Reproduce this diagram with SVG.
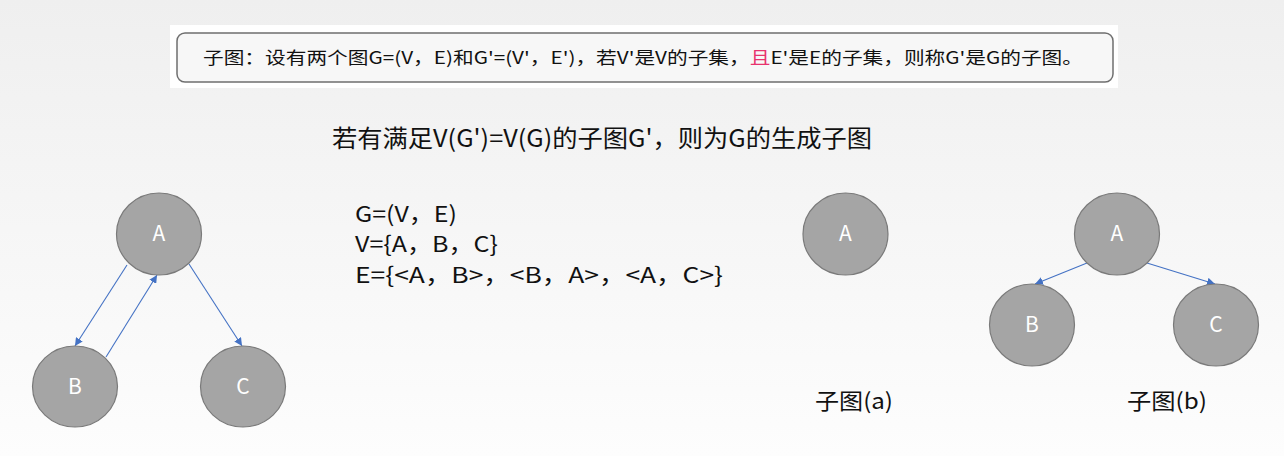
<svg xmlns="http://www.w3.org/2000/svg" width="1284" height="456" viewBox="0 0 1284 456">
<defs>
<linearGradient id="bg" x1="0" y1="0" x2="0" y2="1">
<stop offset="0" stop-color="#efefef"/>
<stop offset="1" stop-color="#fdfdfd"/>
</linearGradient>
<marker id="arr" viewBox="0 0 10 10" refX="10" refY="5" markerWidth="8" markerHeight="8" markerUnits="userSpaceOnUse" orient="auto">
<path d="M0,0 L10,5 L0,10 z" fill="#4472c4"/>
</marker>
<style>
.t{font-family:"Microsoft YaHei","Noto Sans CJK SC",sans-serif;fill:#111}
.n ellipse{fill:#a5a5a5;stroke:#7a7a7a;stroke-width:1.2}
.n text{font-family:"Microsoft YaHei","Noto Sans CJK SC",sans-serif;font-size:21px;fill:#fff;text-anchor:middle}
.e line{stroke:#4472c4;stroke-width:1.1;marker-end:url(#arr)}
</style>
</defs>
<rect width="1284" height="456" fill="url(#bg)"/>
<g id="definition">
<rect x="170" y="25" width="948" height="63" fill="#ffffff"/>
<rect x="177" y="33" width="936" height="49" rx="8" fill="#f7f7f7" stroke="#6f6f6f" stroke-width="1.5"/>
<text class="t" x="203" y="64" font-size="17" textLength="880" lengthAdjust="spacingAndGlyphs">子图：设有两个图G=(V，E)和G'=(V'，E')，若V'是V的子集，<tspan fill="#e8336e">且</tspan>E'是E的子集，则称G'是G的子图。</text>
</g>
<g id="title">
<text class="t" x="332" y="147" font-size="24" textLength="540" lengthAdjust="spacingAndGlyphs">若有满足V(G')=V(G)的子图G'，则为G的生成子图</text>
</g>
<g id="sets">
<text class="t" x="355" y="222" font-size="22" textLength="102" lengthAdjust="spacingAndGlyphs">G=(V，E)</text>
<text class="t" x="355" y="252" font-size="22" textLength="143" lengthAdjust="spacingAndGlyphs">V={A，B，C}</text>
<text class="t" x="355" y="283" font-size="22" textLength="368" lengthAdjust="spacingAndGlyphs">E={&lt;A，B&gt;，&lt;B，A&gt;，&lt;A，C&gt;}</text>
</g>
<g id="connectors" class="e">
<line x1="127" y1="265" x2="75" y2="346"/>
<line x1="106" y1="357" x2="157" y2="275"/>
<line x1="189" y1="264" x2="242" y2="346"/>
<line x1="1087" y1="263" x2="1035" y2="284"/>
<line x1="1147" y1="263" x2="1215" y2="284"/>
</g>
<g id="G_A" class="n"><ellipse cx="159" cy="234" rx="42.5" ry="41"/><text x="159" y="241">A</text></g>
<g id="G_B" class="n"><ellipse cx="75" cy="386.5" rx="42.5" ry="40.5"/><text x="75" y="394">B</text></g>
<g id="G_C" class="n"><ellipse cx="243" cy="386.5" rx="42.5" ry="40.5"/><text x="243" y="394">C</text></g>
<g id="a_A" class="n"><ellipse cx="845.5" cy="234" rx="42.5" ry="41"/><text x="845.5" y="241">A</text></g>
<g id="b_A" class="n"><ellipse cx="1117" cy="234" rx="42.5" ry="41"/><text x="1117" y="241">A</text></g>
<g id="b_B" class="n"><ellipse cx="1032" cy="325" rx="42.5" ry="41"/><text x="1032" y="332">B</text></g>
<g id="b_C" class="n"><ellipse cx="1216" cy="325" rx="42.5" ry="41"/><text x="1216" y="332">C</text></g>
<g id="labels">
<text class="t" x="815" y="409" font-size="22" textLength="78" lengthAdjust="spacingAndGlyphs">子图(a)</text>
<text class="t" x="1127" y="409" font-size="22" textLength="80" lengthAdjust="spacingAndGlyphs">子图(b)</text>
</g>
</svg>
